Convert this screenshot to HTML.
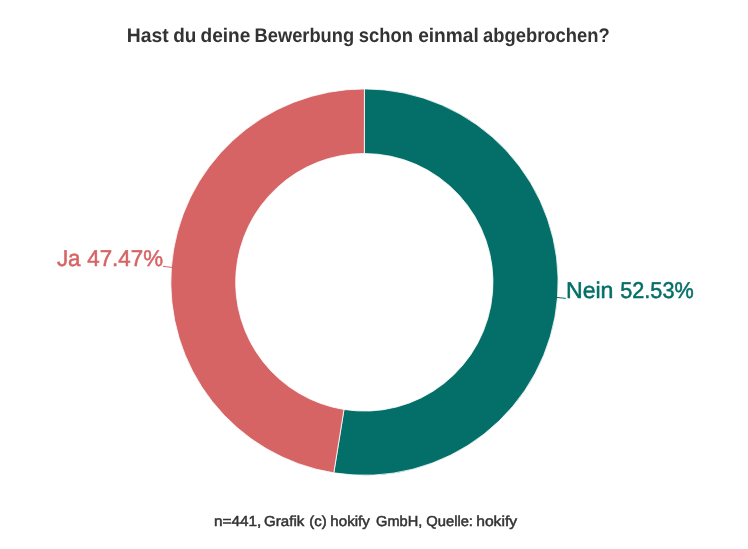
<!DOCTYPE html>
<html lang="de"><head><meta charset="utf-8"><title>Hast du deine Bewerbung schon einmal abgebrochen?</title>
<style>
html,body{margin:0;padding:0;background:#fff;}
body{width:748px;height:549px;overflow:hidden;position:relative;font-family:"Liberation Sans",sans-serif;}
svg{position:absolute;left:0;top:0;display:block;}
text{font-family:"Liberation Sans",sans-serif;text-rendering:geometricPrecision;}
.t{font-weight:bold;fill:#333;}
.f{fill:#333;stroke:#333;stroke-width:0.5px;}
.j{fill:#d66464;stroke:#d66464;stroke-width:0.5px;}
.n{fill:#046e68;stroke:#046e68;stroke-width:0.5px;}
</style></head><body>
<svg width="748" height="549" viewBox="0 0 748 549" xmlns="http://www.w3.org/2000/svg">
<rect width="748" height="549" fill="#fff"/>
<text id="title" class="t" y="42" font-size="19.8"><tspan x="126.76" textLength="41.93" lengthAdjust="spacingAndGlyphs">Hast</tspan> <tspan x="173.27" textLength="23.14" lengthAdjust="spacingAndGlyphs">du</tspan> <tspan x="200.58" textLength="49.78" lengthAdjust="spacingAndGlyphs">deine</tspan> <tspan x="254.57" textLength="99.51" lengthAdjust="spacingAndGlyphs">Bewerbung</tspan> <tspan x="358.74" textLength="54.31" lengthAdjust="spacingAndGlyphs">schon</tspan> <tspan x="418.13" textLength="60.57" lengthAdjust="spacingAndGlyphs">einmal</tspan> <tspan x="483.04" textLength="126.58" lengthAdjust="spacingAndGlyphs">abgebrochen?</tspan></text>
<g id="donut">
<path d="M364.45,88.90 A193.65,193.2 0 1 1 333.80,472.86 L343.99,409.48 A128.65,128.8 0 1 0 364.35,153.50 Z" fill="#046e68" stroke="#fff" stroke-width="0.8" stroke-linejoin="round"/>
<path d="M333.80,472.86 A193.65,193.2 0 0 1 364.45,88.90 L364.35,153.50 A128.65,128.8 0 0 0 343.99,409.48 Z" fill="#d66464" stroke="#fff" stroke-width="0.8" stroke-linejoin="round"/>
</g>
<path d="M171.9,267.45 L163,266.3" fill="none" stroke="#d66464" stroke-width="1"/>
<path d="M556.6,297.4 L565.8,298.4" fill="none" stroke="#046e68" stroke-width="1"/>
<text id="ja" class="j" y="266" font-size="22.8"><tspan x="56.91" textLength="23.69" lengthAdjust="spacingAndGlyphs">Ja</tspan> <tspan x="87.27" textLength="75.78" lengthAdjust="spacingAndGlyphs">47.47%</tspan></text>
<rect x="60.51" y="249.41" width="3.62" height="3.34" fill="#fff"/>
<text id="nein" class="n" y="298" font-size="22.8"><tspan x="565.95" textLength="47.54" lengthAdjust="spacingAndGlyphs">Nein</tspan> <tspan x="620.27" textLength="73.43" lengthAdjust="spacingAndGlyphs">52.53%</tspan></text>
<text id="foot" class="f" y="526" font-size="14.4"><tspan x="214.01" textLength="47.32" lengthAdjust="spacingAndGlyphs">n=441,</tspan> <tspan x="264.13" textLength="40.22" lengthAdjust="spacingAndGlyphs">Grafik</tspan> <tspan x="309.28" textLength="17.45" lengthAdjust="spacingAndGlyphs">(c)</tspan> <tspan x="330.36" textLength="39.48" lengthAdjust="spacingAndGlyphs">hokify</tspan> <tspan x="376.11" textLength="46.19" lengthAdjust="spacingAndGlyphs">GmbH,</tspan> <tspan x="426.31" textLength="46.68" lengthAdjust="spacingAndGlyphs">Quelle:</tspan> <tspan x="476.2" textLength="40.88" lengthAdjust="spacingAndGlyphs">hokify</tspan></text>
</svg>
</body></html>
